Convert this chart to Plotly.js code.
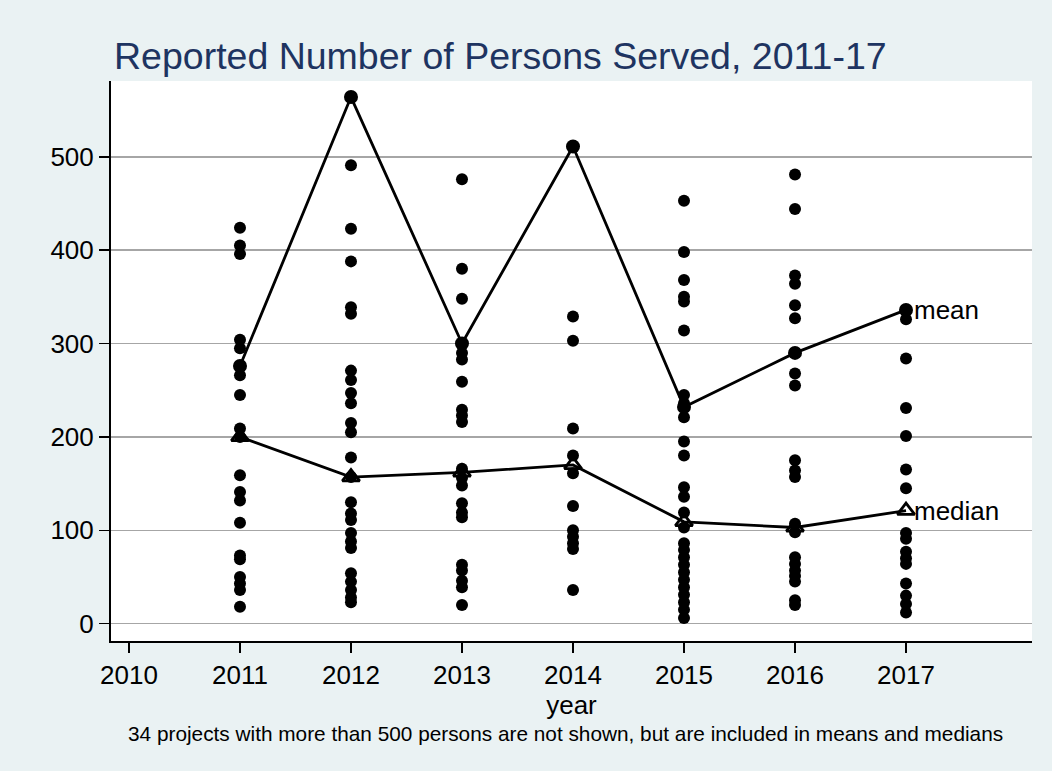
<!DOCTYPE html>
<html>
<head>
<meta charset="utf-8">
<script src="https://cdn.plot.ly/plotly-3.0.1.min.js"></script>
<style>html,body{margin:0;padding:0;background:#EAF2F3;}#chart{width:1052px;height:771px;}</style>
</head>
<body>
<div id="chart"></div>
<script>
var years = [2011, 2012, 2013, 2014, 2015, 2016, 2017];
var xTicks = [2010, 2011, 2012, 2013, 2014, 2015, 2016, 2017];
var yTicks = [0, 100, 200, 300, 400, 500];

var served2011 = [424, 405, 396, 304, 295, 266, 245, 209, 200, 159, 141, 132, 108, 73, 69, 50, 43, 36, 18];
var served2012 = [491, 423, 388, 339, 332, 271, 261, 247, 236, 215, 205, 178, 157, 130, 118, 111, 97, 88, 81, 54, 45, 36, 28, 23];
var served2013 = [476, 380, 348, 290, 283, 259, 229, 223, 216, 166, 156, 148, 129, 119, 114, 63, 57, 46, 39, 20];
var served2014 = [329, 303, 209, 180, 161, 126, 100, 93, 86, 80, 36];
var served2015 = [453, 398, 368, 350, 345, 314, 245, 236, 221, 195, 180, 146, 136, 119, 103, 86, 79, 71, 63, 55, 47, 39, 31, 23, 15, 6];
var served2016 = [481, 444, 373, 364, 341, 327, 268, 255, 175, 164, 157, 107, 98, 71, 64, 57, 51, 45, 25, 20];
var served2017 = [326, 284, 231, 201, 165, 145, 97, 91, 77, 70, 64, 43, 30, 21, 12];

var meanValues = [276, 564, 300, 511, 232, 290, 336];
var medianValues = [200, 157, 162, 170, 109, 103, 121];

var servedByYear = [served2011, served2012, served2013, served2014, served2015, served2016, served2017];
var dotX = [], dotY = [];
servedByYear.forEach(function (arr, i) {
  arr.forEach(function (v) { dotX.push(years[i]); dotY.push(v); });
});

var font = "Liberation Sans, Arial, sans-serif";

var traces = [
  {
    x: dotX, y: dotY, type: "scatter", mode: "markers",
    marker: {color: "#000000", size: 12, symbol: "circle"},
    showlegend: false, hoverinfo: "x+y"
  },
  {
    x: years, y: meanValues, type: "scatter", mode: "lines+markers",
    line: {color: "#000000", width: 2.8},
    marker: {color: "#000000", size: 14, symbol: "circle"},
    showlegend: false, name: "mean"
  },
  {
    x: years, y: medianValues, type: "scatter", mode: "lines+markers",
    line: {color: "#000000", width: 2.8},
    marker: {color: "#000000", size: 15, symbol: "triangle-up-open", line: {color: "#000000", width: 2.8}},
    showlegend: false, name: "median"
  }
];

var layout = {
  width: 1052, height: 771,
  paper_bgcolor: "#EAF2F3",
  plot_bgcolor: "#FFFFFF",
  margin: {l: 111, r: 20, t: 81, b: 130},
  font: {family: font, color: "#000000", size: 26},
  title: {
    text: "Reported Number of Persons Served, 2011-17",
    font: {family: font, size: 37.5, color: "#1E3461"},
    xref: "container", x: 114 / 1052, xanchor: "left",
    yref: "container", y: 1 - 56 / 771, yanchor: "middle"
  },
  xaxis: {
    range: [2009.838, 2018.135],
    tickmode: "array", tickvals: xTicks, ticktext: xTicks.map(String),
    ticks: "outside", ticklen: 10, tickwidth: 1.5, tickcolor: "#000000",
    showline: true, linecolor: "#000000", linewidth: 2,
    showgrid: false, zeroline: false,
    tickfont: {family: font, size: 26, color: "#000000"},
    title: {text: "year", font: {family: font, size: 26, color: "#000000"}, standoff: 0}
  },
  yaxis: {
    range: [-18.6, 581.2],
    tickmode: "array", tickvals: yTicks, ticktext: yTicks.map(String),
    ticks: "outside", ticklen: 10, tickwidth: 1.5, tickcolor: "#000000",
    showline: true, linecolor: "#000000", linewidth: 2,
    showgrid: true, gridcolor: "#A6A6A6", gridwidth: 1.5,
    zeroline: false,
    tickfont: {family: font, size: 26, color: "#000000"}
  },
  annotations: [
    {
      x: years[6], y: meanValues[6], xref: "x", yref: "y",
      text: "mean", showarrow: false, xanchor: "left", yanchor: "middle", xshift: 6,
      font: {family: font, size: 26, color: "#000000"}
    },
    {
      x: years[6], y: medianValues[6], xref: "x", yref: "y",
      text: "median", showarrow: false, xanchor: "left", yanchor: "middle", xshift: 6,
      font: {family: font, size: 26, color: "#000000"}
    },
    {
      x: 0.4935, y: -0.166, xref: "paper", yref: "paper",
      text: "34 projects with more than 500 persons are not shown, but are included in means and medians",
      showarrow: false, xanchor: "center", yanchor: "middle",
      font: {family: font, size: 20.8, color: "#000000"}
    }
  ]
};

Plotly.newPlot("chart", traces, layout, {displayModeBar: false, staticPlot: true});
</script>
</body>
</html>
